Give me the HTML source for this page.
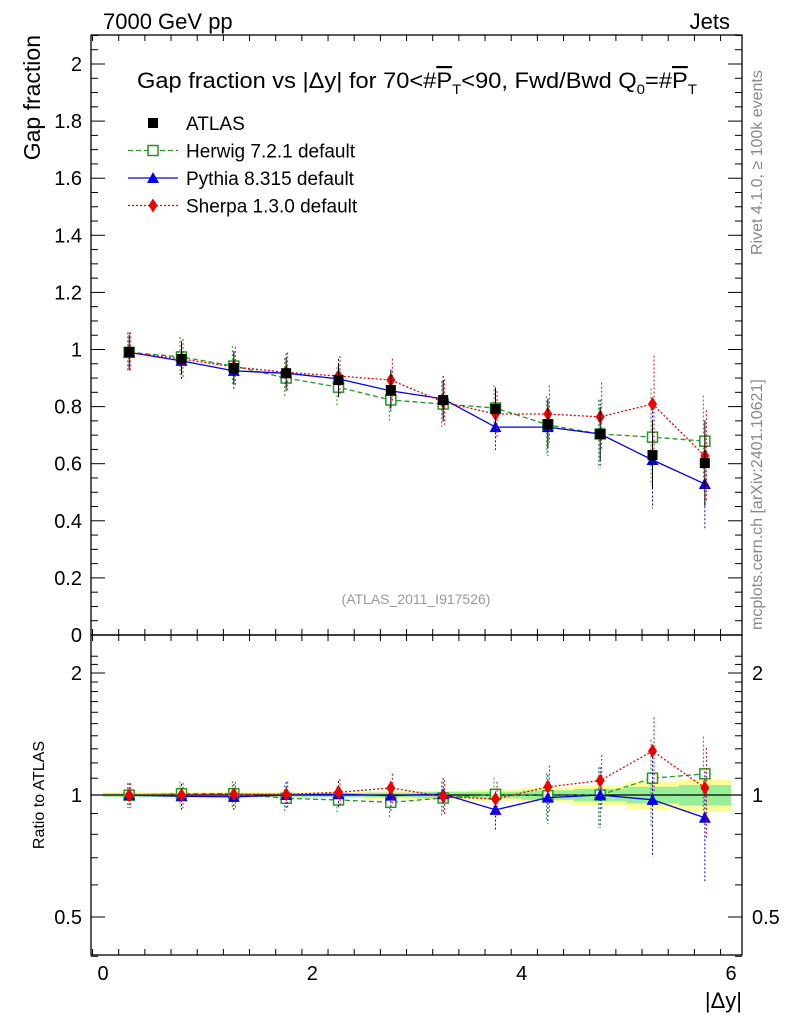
<!DOCTYPE html>
<html><head><meta charset="utf-8"><style>
body{margin:0;background:#fff}
svg text{font-family:"Liberation Sans",sans-serif}
</style></head><body>
<svg id="c" width="786" height="1024" xmlns="http://www.w3.org/2000/svg">
<rect width="786" height="1024" fill="#fff"/>
<text x="103" y="29" font-size="22">7000 GeV pp</text>
<text x="730" y="29" font-size="22" text-anchor="end">Jets</text>
<text x="40" y="35" font-size="23" text-anchor="end" transform="rotate(-90 40 35)">Gap fraction</text>
<text x="44" y="795" font-size="16" text-anchor="middle" transform="rotate(-90 44 795)">Ratio to ATLAS</text>
<text x="742" y="1008" font-size="22" text-anchor="end">|Δy|</text>
<text x="762" y="255" font-size="16" fill="#888" transform="rotate(-90 762 255)">Rivet 4.1.0, ≥ 100k events</text>
<text x="762" y="630" font-size="16" fill="#888" transform="rotate(-90 762 630)">mcplots.cern.ch [arXiv:2401.10621]</text>
<text x="416" y="604" font-size="14" fill="#999" text-anchor="middle">(ATLAS_2011_I917526)</text>
<text x="137" y="88" font-size="22" textLength="560" lengthAdjust="spacingAndGlyphs">Gap fraction vs |Δy| for 70&lt;#<tspan text-decoration="overline">P</tspan><tspan font-size="14" dy="6">T</tspan><tspan dy="-6">&lt;90, Fwd/Bwd Q</tspan><tspan font-size="14" dy="6">0</tspan><tspan dy="-6">=#</tspan><tspan text-decoration="overline">P</tspan><tspan font-size="14" dy="6">T</tspan></text>
<g id="legend"></g>
<g id="main"></g><g id="ratio"></g>
</svg>
<script>
const xCenters=[0.25,0.75,1.25,1.75,2.25,2.75,3.25,3.75,4.25,4.75,5.25,5.75];
const atlasVals=[0.991,0.967,0.935,0.917,0.893,0.858,0.823,0.792,0.739,0.704,0.630,0.602];
const atlasErr=[0.06,0.055,0.055,0.055,0.06,0.065,0.07,0.075,0.085,0.095,0.12,0.15];
const bandTotal=[0.015,0.015,0.015,0.015,0.015,0.02,0.02,0.025,0.03,0.04,0.05,0.055];
const bandStat=[0.01,0.01,0.01,0.01,0.01,0.012,0.015,0.015,0.02,0.025,0.03,0.035];
const herwigVals=[0.99,0.974,0.942,0.90,0.868,0.823,0.809,0.795,0.736,0.704,0.693,0.679];
const pythiaVals=[0.99,0.96,0.925,0.917,0.897,0.855,0.827,0.728,0.728,0.704,0.613,0.529];
const sherpaVals=[0.99,0.967,0.939,0.92,0.907,0.893,0.816,0.774,0.774,0.764,0.809,0.627];
const mcErr=[0.07,0.07,0.07,0.07,0.07,0.075,0.08,0.08,0.1,0.12,0.17,0.16];
const yTicks=[0,0.2,0.4,0.6,0.8,1,1.2,1.4,1.6,1.8,2];
const xTicks=[0,2,4,6];
const rTicks=[0.5,1,2];
const NS="http://www.w3.org/2000/svg";
const L=91,R=742,T=35,MB=635,RB=955;
const X=v=>103+v*104.67;
const Y=v=>635-v*285.5;
const RY=v=>795-Math.log2(v)*122;
function el(p,t,a){const e=document.createElementNS(NS,t);for(const k in a)e.setAttribute(k,a[k]);p.appendChild(e);return e;}
const main=document.getElementById('main'),ratio=document.getElementById('ratio'),leg=document.getElementById('legend');
let f=el(main,'rect',{x:L,y:T,width:R-L,height:MB-T,fill:'none',stroke:'#000','stroke-width':1.3});


xCenters.forEach((c,i)=>{
 const ty=bandTotal[i]/atlasVals[i],st=bandStat[i]/atlasVals[i];
 let b=el(ratio,'rect',{x:X(c-0.25),y:RY(1+ty),width:X(0.5)-X(0),height:RY(1-ty)-RY(1+ty),fill:'#ffff99'});
 
 
 let g=el(ratio,'rect',{x:X(c-0.25),y:RY(1+st),width:X(0.5)-X(0),height:RY(1-st)-RY(1+st),fill:'#99ee99'});
 
 
});
el(ratio,'line',{x1:L,x2:R,y1:RY(1),y2:RY(1),stroke:'#000','stroke-width':1.3});
let f2=el(ratio,'rect',{x:L,y:MB,width:R-L,height:RB-MB,fill:'none',stroke:'#000','stroke-width':1.3});


for(let v=0;v<=2.1001;v+=0.05){const maj=Math.abs(v/0.2-Math.round(v/0.2))<1e-6;const len=maj?14:7;
 el(main,'line',{x1:L,x2:L+len,y1:Y(v),y2:Y(v),stroke:'#000'});el(main,'line',{x1:R,x2:R-len,y1:Y(v),y2:Y(v),stroke:'#000'});}
yTicks.forEach(v=>{let t=el(main,'text',{x:82,y:Y(v)+7,'font-size':20,'text-anchor':'end'});t.textContent=String(v);
 
 });
for(let v=-0.1;v<=6.15;v+=0.25){const vv=Math.round(v*100)/100;if(vv<-0.11)continue;const maj=Math.abs(vv/2-Math.round(vv/2))<1e-6;const m2=Math.abs(vv-Math.round(vv))<1e-6;const len=maj?16:(m2?9:6);
 if(X(vv)<L||X(vv)>R)continue;
 [[MB,-1],[T,1],[RB,-1],[MB,1]].forEach(([y0,d])=>el(main,'line',{x1:X(vv),x2:X(vv),y1:y0,y2:y0+d*len,stroke:'#000'}));}
xTicks.forEach(v=>{let t=el(ratio,'text',{x:X(v),y:980,'font-size':20,'text-anchor':'middle'});t.textContent=String(v);
 
 });
for(let v=0.4;v<=2.3;v+=0.1){const vv=Math.round(v*10)/10;const maj=rTicks.includes(vv);const len=maj?14:7;
 el(ratio,'line',{x1:L,x2:L+len,y1:RY(vv),y2:RY(vv),stroke:'#000'});el(ratio,'line',{x1:R,x2:R-len,y1:RY(vv),y2:RY(vv),stroke:'#000'});}
rTicks.forEach(v=>{[[82,'end'],[752,'start']].forEach(([x,a])=>{let t=el(ratio,'text',{x:x,y:RY(v)+7,'font-size':20,'text-anchor':a});t.textContent=String(v);
 
 });});
function marker(p,kind,x,y,col){
 if(kind==='sq')return el(p,'rect',{x:x-5,y:y-5,width:10,height:10,fill:'#000'});
 if(kind==='osq')return el(p,'rect',{x:x-5,y:y-5,width:10,height:10,fill:'#fff',stroke:col,'stroke-width':1.5});
 if(kind==='tri')return el(p,'polygon',{points:`${x},${y-6} ${x-6},${y+5} ${x+6},${y+5}`,fill:col});
 return el(p,'polygon',{points:`${x},${y-7} ${x-4.5},${y} ${x},${y+7} ${x+4.5},${y}`,fill:col});
}
const series=[
 {name:'herwig',vals:herwigVals,col:'#229922',dash:'5,3',kind:'osq'},
 {name:'pythia',vals:pythiaVals,col:'#0000ee',dash:'',kind:'tri'},
 {name:'sherpa',vals:sherpaVals,col:'#ee0000',dash:'2,2',kind:'dia'}];
const clipY=(y,lo,hi)=>Math.max(lo,Math.min(hi,y));
series.forEach((s,k)=>{
 [[main,v=>Y(v),(v,i)=>v],[ratio,v=>RY(v),(v,i)=>v/atlasVals[i]]].forEach(([g,fy,tr])=>{
  const lo=g===main?T:MB,hi=g===main?MB:RB;
  const pts=s.vals.map((v,i)=>X(xCenters[i])+','+clipY(fy(tr(v,i)),lo,hi)).join(' ');
  let pl=el(g,'polyline',{points:pts,fill:'none',stroke:s.col,'stroke-width':1.3,'stroke-dasharray':s.dash});
  
  
  s.vals.forEach((v,i)=>{const x=X(xCenters[i])+(k-1)*1.5;
   el(g,'line',{x1:x,x2:x,y1:clipY(fy(tr(v+mcErr[i],i)),lo,hi),y2:clipY(fy(tr(Math.max(v-mcErr[i],0.01),i)),lo,hi),stroke:s.col,'stroke-dasharray':'2,2'});
   const m=marker(g,s.kind,X(xCenters[i]),fy(tr(v,i)),s.col);
   
   });
 });
});
atlasVals.forEach((v,i)=>{const x=X(xCenters[i]);
 el(main,'line',{x1:x,x2:x,y1:Y(v+atlasErr[i]),y2:Y(v-atlasErr[i]),stroke:'#000'});
 const m=marker(main,'sq',x,Y(v));
 
 });
const legItems=[['ATLAS','#000','','sq'],['Herwig 7.2.1 default','#229922','5,3','osq'],['Pythia 8.315 default','#0000ee','','tri'],['Sherpa 1.3.0 default','#ee0000','2,2','dia']];
legItems.forEach((it,i)=>{const y=123+i*27.5;
 if(i>0)el(leg,'line',{x1:128,x2:178,y1:y,y2:y,stroke:it[1],'stroke-width':1.3,'stroke-dasharray':it[2]});
 marker(leg,it[3],153,y,it[1]);
 let t=el(leg,'text',{x:186,y:y+7,'font-size':19});t.textContent=it[0];
 
 });
</script>
</body></html>
